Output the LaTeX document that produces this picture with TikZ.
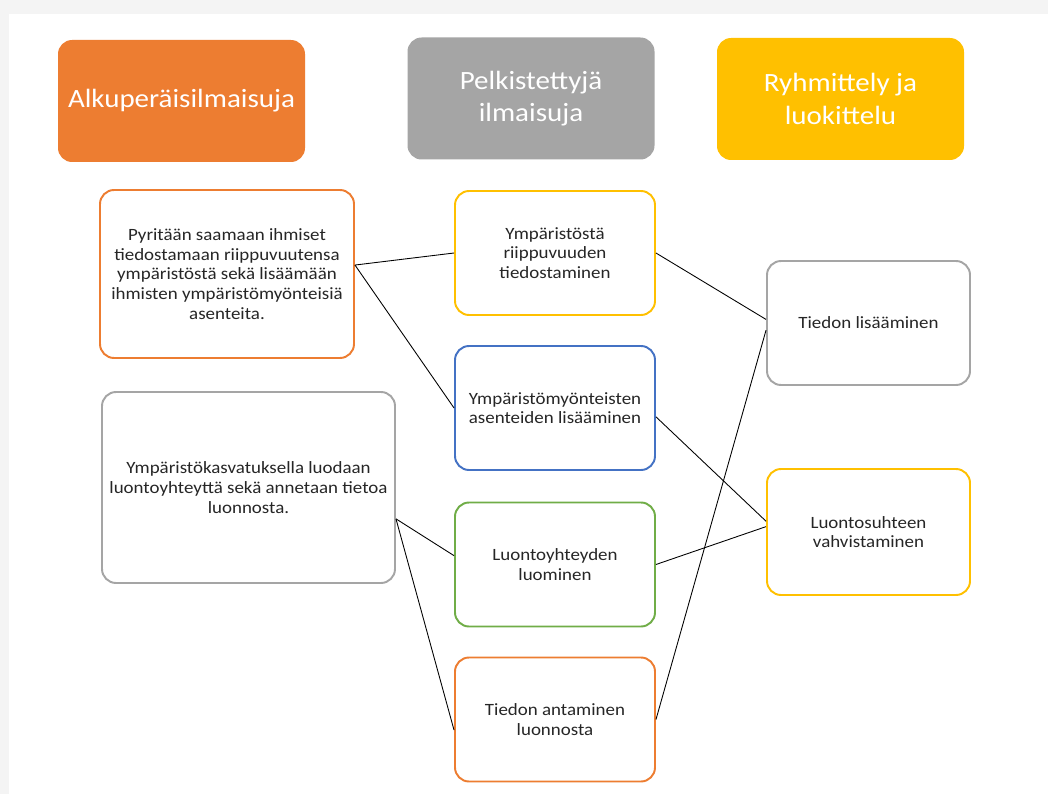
\documentclass[tikz,border=0pt]{standalone}
\usepackage{fontspec}
\setmainfont{Carlito}[FakeStretch=1.1]
\usepackage{tikz}
\usetikzlibrary{positioning}
\definecolor{hdorange}{HTML}{ED7D31}
\definecolor{hdgray}{HTML}{A5A5A5}
\definecolor{hdyellow}{HTML}{FFC000}
\definecolor{bxblue}{HTML}{4472C4}
\definecolor{bxgreen}{HTML}{70AD47}
\definecolor{txtgray}{HTML}{262626}
\tikzstyle{header} = [rectangle, rounded corners=8pt, text centered, text=white, minimum width=4.94cm, minimum height=2.44cm, align=center, font=\fontsize{15}{18.5}\selectfont]
\tikzstyle{item} = [rectangle, rounded corners=8pt, text centered, draw, fill=white, line width=1.1pt, text=txtgray, align=center, font=\fontsize{9.8}{11.2}\selectfont]
\tikzstyle{link} = [black, line width=0.5pt]

\begin{document}
\begin{tikzpicture}

    \fill [gray!9] (0, 0) rectangle (20.96, -15.88);
    \fill [white] (0.18, -0.28) rectangle (20.96, -15.88);
    \useasboundingbox (0, 0) rectangle (20.96, -15.88);

    \node (head_orig) [header, fill=hdorange] at (3.63, -2.02) {Alkuperäisilmaisuja};
    \node (head_simp) [header, fill=hdgray] at (10.62, -1.97) {Pelkistettyjä\\ilmaisuja};
    \node (head_group) [header, fill=hdyellow] at (16.81, -1.98) {Ryhmittely ja\\luokittelu};

    \node (orig1) [item, draw=hdorange, minimum width=5.08cm, minimum height=3.36cm] at (4.54, -5.48)
        {Pyritään saamaan ihmiset\\tiedostamaan riippuvuutensa\\ympäristöstä sekä lisäämään\\ihmisten ympäristömyönteisiä\\asenteita.};
    \node (orig2) [item, draw=hdgray, minimum width=5.86cm, minimum height=3.82cm] at (4.97, -9.75)
        {Ympäristökasvatuksella luodaan\\luontoyhteyttä sekä annetaan tietoa\\luonnosta.};

    \node (simp1) [item, draw=hdyellow, minimum width=4cm, minimum height=2.48cm] at (11.10, -5.06)
        {Ympäristöstä\\riippuvuuden\\tiedostaminen};
    \node (simp2) [item, draw=bxblue, minimum width=4cm, minimum height=2.48cm] at (11.10, -8.16)
        {Ympäristömyönteisten\\asenteiden lisääminen};
    \node (simp3) [item, draw=bxgreen, minimum width=4cm, minimum height=2.48cm] at (11.10, -11.29)
        {Luontoyhteyden\\luominen};
    \node (simp4) [item, draw=hdorange, minimum width=4cm, minimum height=2.48cm] at (11.10, -14.39)
        {Tiedon antaminen\\luonnosta};

    \node (group1) [item, draw=hdgray, minimum width=4.06cm, minimum height=2.48cm] at (17.37, -6.46)
        {Tiedon lisääminen};
    \node (group2) [item, draw=hdyellow, minimum width=4.06cm, minimum height=2.52cm] at (17.37, -10.64)
        {Luontosuhteen\\vahvistaminen};

    \draw [link] (orig1.4) -- (simp1.west);
    \draw [link] (orig1.4) -- (simp2.west);
    \draw [link] (orig2.-12) -- (simp3.175);
    \draw [link] (orig2.-12) -- (simp4.186);

    \draw [link] (simp1.east) -- (group1.178);
    \draw [link] (simp2.-5) -- (group2.174);
    \draw [link] (simp3.east) -- (group2.177);
    \draw [link] (simp4.east) -- (group1.184);

\end{tikzpicture}
\end{document}
